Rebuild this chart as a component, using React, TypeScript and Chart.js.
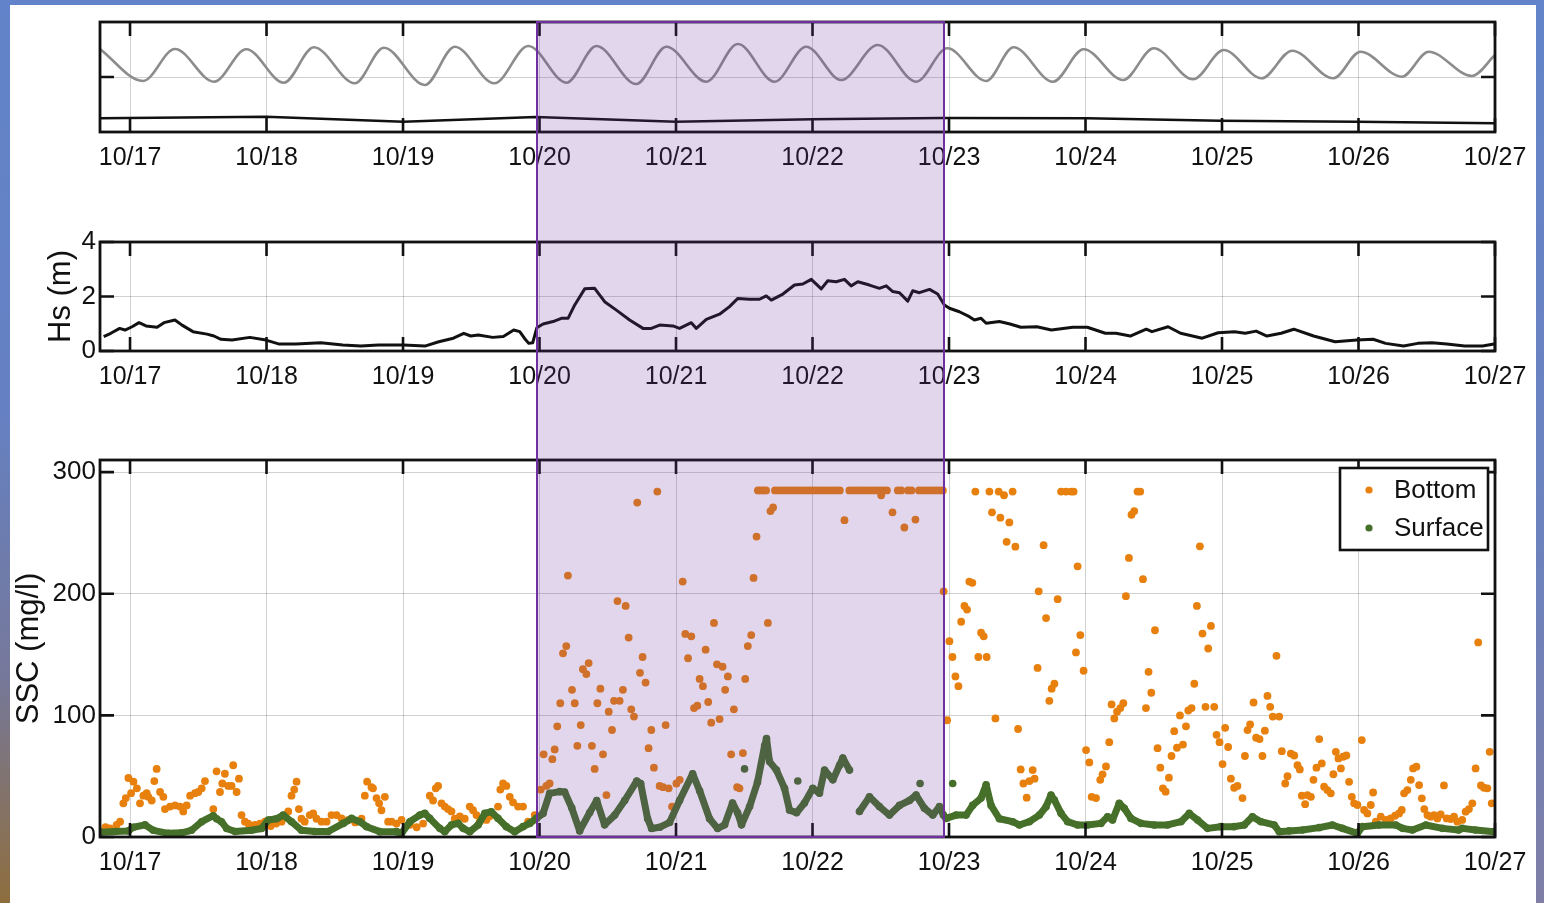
import React, { useEffect, useRef } from "react";
import { Chart, registerables } from "chart.js";

Chart.register(...registerables);

// ---------------- DATA ----------------
// time axis: decimal day of October (17.0 = 10/17 00:00)
const dayTicks = [17, 18, 19, 20, 21, 22, 23, 24, 25, 26, 27];
const dayTickLabels = ["10/17", "10/18", "10/19", "10/20", "10/21", "10/22", "10/23", "10/24", "10/25", "10/26", "10/27"];
const timeStart = 16.78;
const timeEnd = 27;
const stormWindow = [19.98, 22.96];

// top panel (unlabelled): tidal water level (grey) and lower black trace
const tideTicks = [5.5];
const tideLevel: [number, number][] = [
  [16.78, 8.3], [17.095, 5.1], [17.329, 8.3], [17.615, 5.03], [17.852, 8.27], [18.127, 4.93],
  [18.347, 8.47], [18.647, 4.87], [18.859, 8.43], [19.16, 4.7], [19.379, 8.53], [19.669, 4.87],
  [19.918, 8.6], [20.197, 4.93], [20.417, 8.6], [20.709, 4.8], [20.929, 8.53], [21.222, 5.03],
  [21.453, 8.8], [21.722, 5.03], [21.954, 8.53], [22.21, 5.2], [22.478, 8.7], [22.759, 5.03],
  [22.988, 8.37], [23.272, 5.1], [23.473, 8.47], [23.762, 5.03], [23.986, 8.27], [24.276, 5.2],
  [24.5, 8.37], [24.789, 5.27], [25.013, 8.2], [25.29, 5.37], [25.514, 8.13], [25.816, 5.37],
  [26.014, 8.03], [26.317, 5.53], [26.514, 8.03], [26.83, 5.6], [27.0, 7.7],
];
const lowerTrace: [number, number][] = [
  [16.78, 1.37], [17.996, 1.53], [19.003, 1.03], [19.972, 1.5], [21.0, 1.03], [22.0, 1.27],
  [22.95, 1.4], [24.013, 1.37], [24.987, 1.13], [25.988, 1.03], [27.0, 0.87],
];

// middle panel: significant wave height Hs (m)
const hsTicks = [0, 2, 4];
const hsSeries: [number, number][] = [
  [16.807, 0.53], [16.859, 0.65], [16.924, 0.83], [16.963, 0.77], [17.015, 0.89], [17.066, 1.04],
  [17.117, 0.92], [17.198, 0.87], [17.249, 1.04], [17.329, 1.14], [17.381, 0.95], [17.461, 0.71],
  [17.564, 0.62], [17.615, 0.55], [17.666, 0.43], [17.747, 0.4], [17.878, 0.5], [17.996, 0.4],
  [18.088, 0.26], [18.215, 0.26], [18.398, 0.3], [18.559, 0.22], [18.691, 0.18], [18.82, 0.22],
  [19.003, 0.22], [19.16, 0.18], [19.262, 0.34], [19.369, 0.47], [19.445, 0.65], [19.496, 0.55],
  [19.552, 0.59], [19.657, 0.5], [19.735, 0.53], [19.811, 0.77], [19.855, 0.71], [19.892, 0.45],
  [19.921, 0.28], [19.95, 0.3], [19.98, 0.85], [20.026, 0.99], [20.099, 1.08], [20.16, 1.2],
  [20.209, 1.2], [20.258, 1.69], [20.331, 2.28], [20.404, 2.3], [20.477, 1.81], [20.563, 1.5],
  [20.66, 1.14], [20.758, 0.83], [20.819, 0.83], [20.88, 0.95], [20.977, 0.92], [21.026, 0.83],
  [21.112, 1.04], [21.149, 0.83], [21.222, 1.16], [21.319, 1.35], [21.392, 1.63], [21.453, 1.93],
  [21.539, 1.9], [21.612, 1.9], [21.661, 2.02], [21.698, 1.87], [21.783, 2.09], [21.868, 2.42],
  [21.929, 2.46], [21.991, 2.63], [22.064, 2.28], [22.112, 2.58], [22.173, 2.54], [22.234, 2.63],
  [22.283, 2.39], [22.332, 2.54], [22.417, 2.42], [22.49, 2.3], [22.54, 2.39], [22.588, 2.18],
  [22.637, 2.14], [22.698, 1.83], [22.734, 2.21], [22.783, 2.14], [22.857, 2.26], [22.917, 2.09],
  [22.966, 1.69], [23.003, 1.57], [23.076, 1.44], [23.149, 1.26], [23.186, 1.14], [23.235, 1.2],
  [23.272, 1.02], [23.369, 1.08], [23.447, 0.99], [23.526, 0.87], [23.644, 0.89], [23.75, 0.77],
  [23.907, 0.87], [24.013, 0.87], [24.145, 0.65], [24.223, 0.65], [24.328, 0.55], [24.445, 0.8],
  [24.487, 0.71], [24.605, 0.89], [24.697, 0.65], [24.855, 0.47], [24.972, 0.67], [25.092, 0.71],
  [25.17, 0.65], [25.25, 0.73], [25.329, 0.55], [25.433, 0.65], [25.526, 0.8], [25.671, 0.55],
  [25.829, 0.34], [25.988, 0.4], [26.107, 0.43], [26.199, 0.28], [26.33, 0.18], [26.435, 0.28],
  [26.539, 0.3], [26.646, 0.26], [26.778, 0.18], [26.909, 0.18], [26.993, 0.26],
];

// bottom panel: SSC (mg/l)
const sscTicks = [0, 100, 200, 300];
const seriesNames = ["Bottom", "Surface"];
const bottomSSC: [number, number][] = [
  [16.82, 8], [16.853, 7], [16.902, 10], [16.927, 12.6], [16.951, 27.7], [16.969, 32], [16.988, 48.5],
  [17.008, 36], [17.025, 45.5], [17.05, 40], [17.073, 27.7], [17.098, 34], [17.122, 36], [17.134, 33],
  [17.159, 30], [17.178, 46], [17.195, 56], [17.22, 37], [17.244, 33], [17.256, 23], [17.293, 25],
  [17.33, 26], [17.366, 25], [17.39, 21], [17.415, 26], [17.44, 34], [17.476, 36], [17.5, 37],
  [17.525, 40], [17.549, 46], [17.61, 23], [17.634, 54], [17.659, 37], [17.676, 44], [17.695, 52],
  [17.72, 42], [17.744, 42], [17.756, 59], [17.781, 37], [17.798, 48], [17.817, 18], [17.842, 12.6],
  [17.866, 11], [17.915, 10], [17.952, 11], [17.988, 12.6], [18.03, 9], [18.07, 11], [18.11, 12.6],
  [18.159, 21], [18.183, 34], [18.203, 39], [18.22, 45.5], [18.237, 23], [18.256, 15], [18.28, 12.6],
  [18.317, 18], [18.342, 19.5], [18.366, 15], [18.403, 12.6], [18.44, 12.6], [18.476, 18],
  [18.513, 18], [18.55, 15.3], [18.6, 14], [18.65, 12], [18.696, 15], [18.72, 34], [18.737, 45.5],
  [18.769, 41], [18.78, 40], [18.806, 32], [18.825, 27.7], [18.842, 22], [18.867, 33], [18.891, 12.6],
  [18.916, 12.6], [18.952, 11], [18.989, 14], [19.05, 10], [19.1, 8], [19.147, 11], [19.196, 34],
  [19.22, 30], [19.24, 40], [19.257, 42], [19.282, 27.7], [19.306, 25], [19.33, 23], [19.355, 21],
  [19.379, 15], [19.416, 17], [19.452, 15], [19.489, 25], [19.513, 22], [19.538, 18], [19.562, 12.6],
  [19.611, 14], [19.635, 17], [19.696, 25], [19.713, 39], [19.733, 44], [19.757, 42], [19.782, 33],
  [19.806, 28.5], [19.843, 25], [19.879, 25], [19.916, 12.6], [19.965, 18], [20.009, 39], [20.03, 68],
  [20.05, 42], [20.074, 44], [20.094, 64], [20.111, 72], [20.13, 91], [20.152, 110], [20.172, 151],
  [20.196, 157], [20.208, 215], [20.238, 121], [20.258, 110], [20.277, 75], [20.302, 92], [20.318, 138],
  [20.343, 134], [20.36, 143], [20.384, 75], [20.404, 56], [20.424, 110], [20.446, 122], [20.465, 68],
  [20.49, 34.5], [20.507, 103], [20.531, 88], [20.546, 112], [20.571, 194], [20.587, 112], [20.611, 121],
  [20.631, 190], [20.653, 164], [20.672, 105], [20.692, 99], [20.716, 275], [20.736, 135], [20.755, 148],
  [20.777, 127], [20.799, 73], [20.819, 88], [20.838, 57], [20.863, 284], [20.88, 42], [20.905, 41],
  [20.924, 92], [20.946, 40], [20.971, 25], [21.003, 44], [21.027, 47], [21.049, 210], [21.068, 167],
  [21.088, 147], [21.112, 165], [21.132, 106], [21.156, 108], [21.173, 130], [21.197, 124], [21.217, 154],
  [21.236, 111], [21.258, 94], [21.278, 176], [21.3, 142], [21.319, 97], [21.341, 140], [21.36, 121],
  [21.38, 132], [21.404, 68], [21.424, 105], [21.448, 41], [21.465, 40], [21.49, 69], [21.507, 130],
  [21.526, 157], [21.551, 166], [21.568, 213], [21.59, 247], [21.673, 176], [21.692, 268], [21.711, 271],
  [22.234, 260.5], [22.503, 281], [22.586, 267], [22.673, 254.5], [22.754, 261],
  [22.961, 202], [22.986, 96], [23.003, 161], [23.025, 148], [23.047, 132], [23.069, 124], [23.089, 177],
  [23.113, 190], [23.132, 187], [23.149, 210], [23.171, 209], [23.193, 284], [23.215, 148], [23.235, 168],
  [23.254, 165], [23.276, 148], [23.296, 284], [23.315, 267], [23.34, 97.5], [23.364, 284], [23.376, 262.6],
  [23.403, 281], [23.422, 242.7], [23.442, 258.7], [23.466, 284], [23.486, 238.7], [23.506, 88.8],
  [23.525, 55.6], [23.545, 44], [23.569, 32.3], [23.589, 46], [23.613, 55], [23.627, 48], [23.649, 139],
  [23.657, 202], [23.693, 240], [23.711, 180], [23.735, 112], [23.752, 122], [23.772, 126], [23.796, 195.6],
  [23.821, 284], [23.857, 284], [23.894, 284], [23.913, 284], [23.93, 151.8], [23.942, 222.6], [23.962, 166],
  [23.986, 136.7], [24.004, 71.5], [24.028, 61.3], [24.045, 33], [24.077, 32], [24.108, 47], [24.125, 51.5],
  [24.15, 58], [24.174, 78], [24.191, 109], [24.211, 97.5], [24.231, 103], [24.255, 106], [24.277, 110],
  [24.296, 198], [24.318, 229.5], [24.337, 265], [24.357, 268], [24.381, 284], [24.401, 284], [24.421, 212],
  [24.443, 106], [24.462, 135.8], [24.482, 118.6], [24.509, 170], [24.528, 73], [24.548, 57], [24.567, 40],
  [24.587, 37.3], [24.611, 48.8], [24.63, 66.6], [24.65, 87], [24.67, 73.4], [24.692, 100], [24.714, 76],
  [24.736, 91], [24.753, 104], [24.777, 106], [24.797, 126], [24.816, 190], [24.838, 239], [24.857, 167.3],
  [24.879, 107], [24.899, 155], [24.919, 173.6], [24.943, 107], [24.96, 84], [24.982, 78], [25.004, 60],
  [25.023, 89.8], [25.045, 74], [25.065, 48], [25.089, 40.5], [25.113, 42], [25.15, 32], [25.168, 66.6],
  [25.187, 87.9], [25.206, 92.5], [25.231, 110.6], [25.25, 81.6], [25.275, 80.5], [25.296, 66.6],
  [25.314, 87.4], [25.333, 116], [25.353, 107], [25.372, 99], [25.399, 149], [25.419, 99], [25.438, 70.6],
  [25.463, 44], [25.48, 50], [25.504, 68.6], [25.529, 67], [25.553, 59], [25.57, 55.6], [25.585, 34],
  [25.609, 27], [25.626, 34.5], [25.651, 33], [25.67, 47], [25.692, 57], [25.712, 80.5], [25.731, 60.5],
  [25.748, 41.3], [25.772, 38.6], [25.797, 35.9], [25.816, 51.6], [25.834, 70], [25.853, 64.6],
  [25.871, 56.4], [25.887, 66], [25.911, 67], [25.931, 45.4], [25.951, 33], [25.968, 27.7], [25.992, 26.3],
  [26.024, 79.7], [26.041, 22.2], [26.065, 19.4], [26.09, 26.3], [26.107, 36.6], [26.127, 12.6],
  [26.163, 16.7], [26.2, 14], [26.236, 15.3], [26.268, 17.5], [26.297, 19.4], [26.317, 22.2],
  [26.334, 35.9], [26.358, 38.6], [26.383, 47], [26.4, 56.4], [26.424, 57.8], [26.444, 42.7],
  [26.464, 31.8], [26.482, 23], [26.505, 18], [26.529, 16.7], [26.553, 18], [26.578, 15.3], [26.602, 18.6],
  [26.626, 42.4], [26.646, 15.3], [26.675, 14.8], [26.7, 16.7], [26.724, 12.6], [26.76, 14], [26.785, 20.8],
  [26.809, 23], [26.834, 27.7], [26.858, 56.4], [26.877, 160], [26.897, 42.4], [26.919, 40.5],
  [26.944, 40], [26.961, 70], [26.976, 27.7],
];
// bottom sensor at its upper measuring limit
const bottomLimitLevel = 285;
const bottomLimitTimes = [
  21.6, 21.62, 21.64, 21.66, 21.725, 21.75, 21.775, 21.8, 21.825, 21.85, 21.875, 21.9, 21.925, 21.95,
  21.975, 22.0, 22.025, 22.05, 22.075, 22.1, 22.125, 22.15, 22.175, 22.2, 22.27, 22.295, 22.32, 22.345,
  22.37, 22.395, 22.42, 22.445, 22.47, 22.495, 22.52, 22.545, 22.625, 22.65, 22.7, 22.725, 22.78, 22.805,
  22.83, 22.855, 22.88, 22.905, 22.93, 22.955,
];
const surfaceSSC: [number, number | null][] = [
  [16.78, 4], [16.89, 4.5], [16.988, 5], [17.025, 8], [17.11, 10], [17.17, 5.5], [17.28, 3], [17.378, 3.4],
  [17.45, 5.5], [17.525, 12.6], [17.61, 17.5], [17.634, 15], [17.67, 12.6], [17.708, 7], [17.77, 4.5],
  [17.89, 5.5], [17.964, 7], [18.013, 14], [18.074, 15], [18.122, 18], [18.183, 12.6], [18.256, 5.5],
  [18.354, 4.5], [18.452, 4.5], [18.562, 11.2], [18.623, 15.3], [18.684, 12.6], [18.733, 8.5], [18.83, 4.4],
  [18.952, 4.4], [18.989, 3], [19.05, 12.6], [19.123, 18], [19.16, 19.4], [19.196, 15.3], [19.269, 7.1],
  [19.306, 4.4], [19.355, 9.9], [19.404, 11.2], [19.44, 7.1], [19.489, 4.4], [19.55, 9.9], [19.599, 19.4],
  [19.647, 20.8], [19.696, 15.3], [19.757, 8.5], [19.818, 4.4], [19.879, 8.5], [19.928, 11.2],
  [19.977, 15.3], [20.026, 19.4], [20.074, 35.9], [20.148, 37.3], [20.184, 37], [20.236, 24], [20.294, 5],
  [20.367, 20], [20.419, 30], [20.477, 10], [20.551, 18], [20.624, 30], [20.712, 46], [20.741, 44],
  [20.792, 15], [20.821, 7], [20.88, 8], [20.953, 12], [21.026, 30], [21.122, 52], [21.173, 38],
  [21.246, 15], [21.305, 7], [21.356, 10], [21.414, 28], [21.451, 20], [21.48, 10], [21.539, 25],
  [21.597, 45], [21.649, 75], [21.663, 81], [21.685, 62], [21.736, 55], [21.795, 40], [21.832, 22],
  [21.883, 20], [21.941, 28], [22.002, 40], [22.051, 36], [22.088, 55], [22.149, 47], [22.198, 59],
  [22.222, 65], [22.271, 55], [22.305, null], [22.344, 21], [22.417, 33], [22.49, 25], [22.564, 18],
  [22.637, 26], [22.71, 30], [22.759, 34.5], [22.82, 23.6], [22.881, 18], [22.93, 25], [22.959, 18],
  [22.979, 15.3], [23.052, 18], [23.125, 18], [23.173, 26], [23.235, 32], [23.272, 43], [23.308, 26],
  [23.369, 15], [23.466, 12.6], [23.515, 9.9], [23.589, 12.6], [23.662, 18], [23.711, 24.9],
  [23.747, 34.5], [23.772, 30.4], [23.821, 19.4], [23.869, 12.6], [23.942, 9.9], [24.015, 9.9],
  [24.113, 11.2], [24.162, 16.7], [24.198, 14], [24.247, 27.7], [24.284, 23.6], [24.333, 15.3],
  [24.406, 11.2], [24.504, 9.9], [24.601, 9.9], [24.699, 12.6], [24.76, 19.4], [24.821, 14], [24.894, 7.1],
  [24.992, 8.5], [25.089, 8.5], [25.163, 9.9], [25.223, 16.7], [25.285, 12.6], [25.382, 9.9],
  [25.419, 4.4], [25.492, 5], [25.589, 5.8], [25.712, 7.7], [25.809, 9.9], [25.882, 7.1], [25.992, 3],
  [26.028, 8.5], [26.151, 9.9], [26.273, 9.9], [26.322, 7.1], [26.395, 5.8], [26.493, 9.9], [26.614, 7.1],
  [26.734, 5.8], [26.76, 7.1], [26.858, 5.8], [26.993, 4.4],
];
const surfaceStray: [number, number][] = [[21.502, 56], [21.892, 46], [22.788, 44], [23.027, 44]];

// ---------------- STYLE / LAYOUT ----------------
const FONT = "'Liberation Sans', Arial, Helvetica, sans-serif";
const INK = "#111111";
const GRID = "rgba(0,0,0,0.18)";
const ORANGE = "#E8800E";
const GREEN = "#46702A";
const TIDE_GREY = "#8C8C8C";
const PANEL_TOP = [0, 190, 390];
const PANEL_H = [190, 200, 513];
const PLOT_TOP = [22, 52, 70];
const XAXIS_H = [58, 39, 66];

const toXY = (arr: [number, number | null][]) => arr.map(([x, y]) => ({ x, y }));

const frameTicks = {
  id: "frameTicks",
  afterDatasetsDraw(chart: any) {
    const { ctx, chartArea, scales } = chart;
    const { left, right, top, bottom } = chartArea;
    const L = 14;
    ctx.save();
    ctx.strokeStyle = INK;
    ctx.lineWidth = 2.6;
    ctx.beginPath();
    scales.x.ticks.forEach((t: any) => {
      const x = scales.x.getPixelForValue(t.value);
      ctx.moveTo(x, top);
      ctx.lineTo(x, top + L);
      ctx.moveTo(x, bottom);
      ctx.lineTo(x, bottom - L);
    });
    scales.y.ticks.forEach((t: any) => {
      const y = scales.y.getPixelForValue(t.value);
      ctx.moveTo(left, y);
      ctx.lineTo(left + L, y);
      ctx.moveTo(right, y);
      ctx.lineTo(right - L, y);
    });
    ctx.stroke();
    ctx.lineWidth = 2.8;
    ctx.strokeRect(left, top, right - left, bottom - top);
    ctx.restore();
  },
};

const boxLegend = {
  id: "boxLegend",
  afterDraw(chart: any) {
    const { ctx, chartArea } = chart;
    const w = 148;
    const h = 82;
    const x0 = chartArea.right - 7 - w;
    const y0 = chartArea.top + 8;
    const colors = [ORANGE, GREEN];
    ctx.save();
    ctx.fillStyle = "#ffffff";
    ctx.fillRect(x0, y0, w, h);
    ctx.strokeStyle = INK;
    ctx.lineWidth = 2.6;
    ctx.strokeRect(x0, y0, w, h);
    ctx.font = `26px ${FONT}`;
    ctx.textBaseline = "middle";
    ctx.textAlign = "left";
    seriesNames.forEach((name, i) => {
      const cy = y0 + 22 + i * 38;
      ctx.beginPath();
      ctx.fillStyle = colors[i];
      ctx.arc(x0 + 29, cy, 3.6, 0, Math.PI * 2);
      ctx.fill();
      ctx.fillStyle = INK;
      ctx.fillText(name, x0 + 54, cy + 1);
    });
    ctx.restore();
  },
};

function xScale(axisHeight: number) {
  return {
    type: "linear",
    min: timeStart,
    max: timeEnd,
    afterBuildTicks: (s: any) => {
      s.ticks = dayTicks.map((v) => ({ value: v }));
    },
    afterFit: (s: any) => {
      s.height = axisHeight;
    },
    grid: { color: GRID, lineWidth: 1, drawTicks: false },
    border: { display: false },
    ticks: {
      color: INK,
      font: { family: FONT, size: 25 },
      padding: 11,
      maxRotation: 0,
      minRotation: 0,
      autoSkip: false,
      callback: (_v: any, i: number) => dayTickLabels[i],
    },
  };
}

function yScale(min: number, max: number, tickValues: number[], showLabels: boolean, title?: string, titlePad?: number) {
  return {
    type: "linear",
    min,
    max,
    afterBuildTicks: (s: any) => {
      s.ticks = tickValues.map((v) => ({ value: v }));
    },
    afterFit: (s: any) => {
      s.width = 100;
    },
    grid: { color: GRID, lineWidth: 1, drawTicks: false },
    border: { display: false },
    ticks: {
      display: showLabels,
      color: INK,
      font: { family: FONT, size: 26 },
      padding: 4,
      callback: (v: any) => String(v),
    },
    title: title
      ? { display: true, text: title, color: INK, font: { family: FONT, size: 31 }, padding: { top: titlePad, bottom: 0 } }
      : { display: false },
  };
}

function makeConfig(type: string, datasets: any[], y: any, idx: number, extra: any[]) {
  return {
    type,
    data: { datasets },
    options: {
      responsive: false,
      maintainAspectRatio: false,
      animation: false,
      events: [],
      layout: { autoPadding: false, padding: { top: PLOT_TOP[idx], right: 49, bottom: 0, left: 0 } },
      plugins: { legend: { display: false }, tooltip: { enabled: false }, title: { display: false } },
      scales: { x: xScale(XAXIS_H[idx]), y },
    },
    plugins: [frameTicks, ...extra],
  } as any;
}

export default function App() {
  const refA = useRef<HTMLCanvasElement>(null);
  const refB = useRef<HTMLCanvasElement>(null);
  const refC = useRef<HTMLCanvasElement>(null);
  const overlayRef = useRef<HTMLDivElement>(null);

  useEffect(() => {
    const charts: Chart[] = [];
    const chartA = new Chart(
      refA.current as HTMLCanvasElement,
      makeConfig(
        "line",
        [
          {
            data: toXY(tideLevel),
            borderColor: TIDE_GREY,
            borderWidth: 2.6,
            pointRadius: 0,
            cubicInterpolationMode: "monotone",
            fill: false,
          },
          { data: toXY(lowerTrace), borderColor: INK, borderWidth: 2.6, pointRadius: 0, tension: 0, fill: false },
        ],
        yScale(0, 11, tideTicks, false),
        0,
        []
      )
    );
    charts.push(chartA);

    const chartB = new Chart(
      refB.current as HTMLCanvasElement,
      makeConfig(
        "line",
        [{ data: toXY(hsSeries), borderColor: INK, borderWidth: 3, pointRadius: 0, tension: 0, fill: false, borderJoinStyle: "round" }],
        yScale(0, 4, hsTicks, true, "Hs (m)", 43),
        1,
        []
      )
    );
    charts.push(chartB);

    const chartC = new Chart(
      refC.current as HTMLCanvasElement,
      makeConfig(
        "scatter",
        [
          {
            label: seriesNames[1],
            data: toXY(surfaceSSC),
            showLine: true,
            spanGaps: false,
            borderColor: GREEN,
            backgroundColor: GREEN,
            borderWidth: 7,
            borderJoinStyle: "round",
            borderCapStyle: "round",
            pointRadius: 3.8,
            pointBorderWidth: 0,
          },
          { data: toXY(surfaceStray), backgroundColor: GREEN, pointRadius: 3.8, pointBorderWidth: 0 },
          { label: seriesNames[0], data: toXY(bottomSSC), backgroundColor: ORANGE, pointRadius: 3.9, pointBorderWidth: 0 },
          {
            data: bottomLimitTimes.map((t) => ({ x: t, y: bottomLimitLevel })),
            backgroundColor: ORANGE,
            pointRadius: 3.9,
            pointBorderWidth: 0,
          },
        ],
        yScale(0, 310, sscTicks, true, "SSC (mg/l)", 11),
        2,
        [boxLegend]
      )
    );
    charts.push(chartC);

    const ov = overlayRef.current;
    if (ov) {
      const xs: any = chartC.scales.x;
      const l = xs.getPixelForValue(stormWindow[0]);
      const r = xs.getPixelForValue(stormWindow[1]);
      const t = PANEL_TOP[0] + chartA.chartArea.top;
      const b = PANEL_TOP[2] + chartC.chartArea.bottom;
      ov.style.left = `${l - 1}px`;
      ov.style.top = `${t - 1}px`;
      ov.style.width = `${r - l + 2}px`;
      ov.style.height = `${b - t + 2}px`;
      ov.style.display = "block";
    }

    return () => charts.forEach((c) => c.destroy());
  }, []);

  const canvasStyle = (i: number): React.CSSProperties => ({
    position: "absolute",
    left: 0,
    top: PANEL_TOP[i],
    width: 1544,
    height: PANEL_H[i],
  });

  return (
    <div
      style={{
        position: "fixed",
        left: 0,
        top: 0,
        width: 1544,
        height: 903,
        overflow: "hidden",
        background: "linear-gradient(180deg, #6283C9 0%, #6581C3 45%, #76789A 75%, #8E6E3E 100%)",
      }}
    >
      <div
        style={{
          position: "absolute",
          right: 0,
          top: 0,
          width: 8,
          height: 903,
          background: "linear-gradient(180deg, #6384CA 0%, #6C82BE 60%, #7E7EA6 100%)",
        }}
      />
      <div style={{ position: "absolute", left: 10, top: 5, width: 1526, height: 898, background: "#ffffff" }} />
      <canvas ref={refA} width={1544} height={PANEL_H[0]} style={canvasStyle(0)} />
      <canvas ref={refB} width={1544} height={PANEL_H[1]} style={canvasStyle(1)} />
      <canvas ref={refC} width={1544} height={PANEL_H[2]} style={canvasStyle(2)} />
      <div
        ref={overlayRef}
        style={{
          position: "absolute",
          display: "none",
          boxSizing: "border-box",
          border: "2px solid #7030A0",
          background: "rgba(112,48,160,0.2)",
          pointerEvents: "none",
        }}
      />
    </div>
  );
}
